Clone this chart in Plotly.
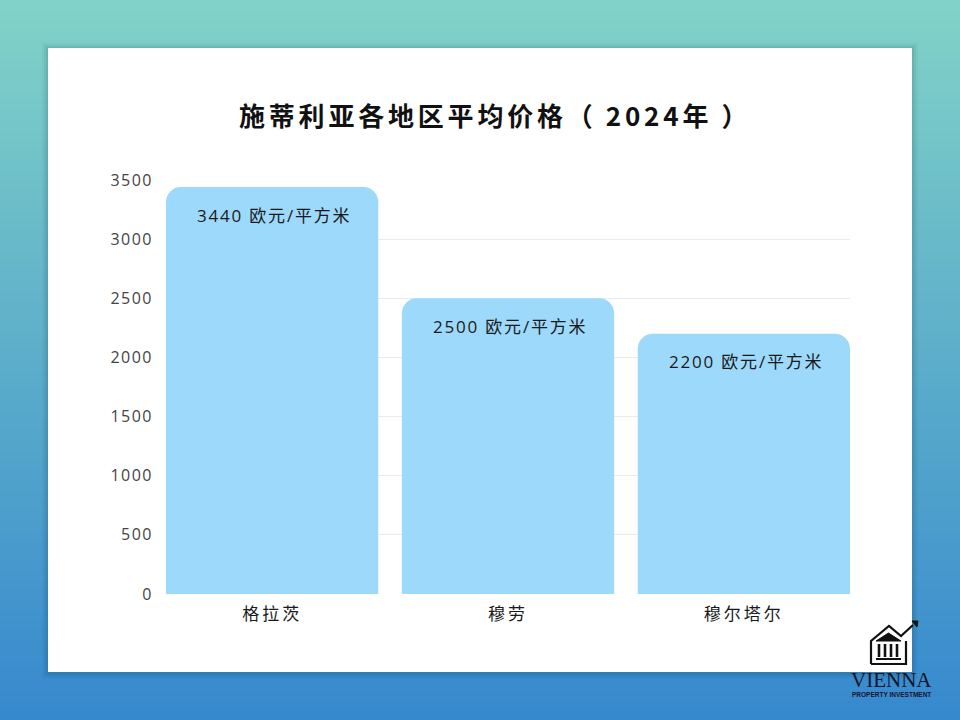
import plotly.graph_objects as go

# ---- data ----
regions = ["格拉茨", "穆劳", "穆尔塔尔"]
prices = [3440, 2500, 2200]
price_labels = ["3440 欧元/平方米", "2500 欧元/平方米", "2200 欧元/平方米"]
y_ticks = [0, 500, 1000, 1500, 2000, 2500, 3000, 3500]
title_text = "施蒂利亚各地区平均价格（2024年）"

W, H = 960, 720
CJK = "Noto Sans CJK SC, Noto Sans, sans-serif"
MIX = "Open Sans, Noto Sans CJK SC, sans-serif"


def spaced(s, ls):
    return '<span style="letter-spacing:%spx">%s</span>' % (ls, s)


def title_markup(s, base=3.8, wide=13):
    # widen the space after the opening paren and before the closing paren
    out = []
    buf = ""
    for ch in s:
        if ch in ("（", "年"):
            if buf:
                out.append(spaced(buf, base))
            out.append(spaced(ch, wide))
            buf = ""
        else:
            buf += ch
    if buf:
        out.append(spaced(buf, base))
    return "".join(out)


fig = go.Figure()
fig.add_trace(go.Bar(
    x=regions, y=prices, marker=dict(color="#9dd9fb", line=dict(width=0)),
    hoverinfo="skip", showlegend=False,
))

mL, mR, mT, mB = 166, 110, 180, 126
pw, ph = W - mL - mR, H - mT - mB


def px_x(x):
    return (x - mL) / pw


def px_y(y):
    return (H - mB - y) / ph


shapes = []
# background gradient
top = (129, 210, 199)
bot = (55, 137, 206)
N = 72
for i in range(N):
    t = i / (N - 1)
    c = tuple(round(top[k] + (bot[k] - top[k]) * t) for k in range(3))
    y0 = i * H / N
    y1 = (i + 1) * H / N + 1
    shapes.append(dict(type="rect", xref="paper", yref="paper", layer="below",
                       x0=px_x(-5), x1=px_x(W + 5), y0=px_y(y1), y1=px_y(y0),
                       line=dict(width=0), fillcolor="rgb(%d,%d,%d)" % c))

# card shadow
for d, a in [(6, 0.04), (4, 0.05), (2, 0.07)]:
    shapes.append(dict(type="rect", xref="paper", yref="paper", layer="below",
                       x0=px_x(48 - d), x1=px_x(912 + d), y0=px_y(672 + d + 1), y1=px_y(48 - d + 1),
                       line=dict(width=0), fillcolor="rgba(0,40,60,%.2f)" % a))
# white card
shapes.append(dict(type="rect", xref="paper", yref="paper", layer="below",
                   x0=px_x(48), x1=px_x(912), y0=px_y(672), y1=px_y(48),
                   line=dict(width=0), fillcolor="white"))

# logo (house + arrow)
logo_col = "#111"


def P(pts, close=False):
    s = "M " + " L ".join("%f,%f" % (px_x(x), px_y(y)) for x, y in pts)
    return s + (" Z" if close else "")


shapes.append(dict(type="path", xref="paper", yref="paper",
                   path=P([(871, 664), (871, 641), (889, 626), (901, 636), (913, 625)]),
                   line=dict(color=logo_col, width=2.2)))
shapes.append(dict(type="path", xref="paper", yref="paper",
                   path=P([(871, 664), (906, 664), (906, 641)]),
                   line=dict(color=logo_col, width=2.2)))
shapes.append(dict(type="path", xref="paper", yref="paper",
                   path=P([(912, 621), (918, 621), (917, 627)], close=True),
                   fillcolor=logo_col, line=dict(color=logo_col, width=1)))
shapes.append(dict(type="path", xref="paper", yref="paper",
                   path=P([(876, 641), (888.5, 633), (901, 641)], close=True),
                   fillcolor=logo_col, line=dict(color=logo_col, width=1)))
for cx in [879, 885, 891, 897]:
    shapes.append(dict(type="rect", xref="paper", yref="paper",
                       x0=px_x(cx - 1.3), x1=px_x(cx + 1.3), y0=px_y(657), y1=px_y(644),
                       fillcolor=logo_col, line=dict(width=0)))
shapes.append(dict(type="rect", xref="paper", yref="paper",
                   x0=px_x(876), x1=px_x(901), y0=px_y(660), y1=px_y(658),
                   fillcolor=logo_col, line=dict(width=0)))

annotations = []
for r, v, lab in zip(regions, prices, price_labels):
    annotations.append(dict(x=r, y=v, xref="x", yref="y", text=spaced(lab, 1.8), showarrow=False,
                            yshift=-28, xshift=2, yanchor="middle", xanchor="center",
                            font=dict(family=MIX, size=17, color="#1a1a1a")))

annotations.append(dict(x=px_x(891), y=px_y(680), xref="paper", yref="paper",
                        text="VIENNA", showarrow=False, xanchor="center", yanchor="middle",
                        font=dict(family="Liberation Serif, DejaVu Serif, serif", size=21, color="#14142a")))
annotations.append(dict(x=px_x(891), y=px_y(694), xref="paper", yref="paper",
                        text="<b>PROPERTY INVESTMENT</b>", showarrow=False, xanchor="center", yanchor="middle",
                        font=dict(family="Liberation Sans Narrow, Liberation Sans, sans-serif", size=6.5, color="#14142a")))

annotations.append(dict(x=px_x(495), y=px_y(115), xref="paper", yref="paper",
                        text="<b>" + title_markup(title_text) + "</b>", showarrow=False,
                        xanchor="center", yanchor="middle",
                        font=dict(family=CJK, size=26, color="#111")))

fig.update_layout(
    width=W, height=H,
    margin=dict(l=mL, r=mR, t=mT, b=mB, pad=0),
    paper_bgcolor="rgba(0,0,0,0)", plot_bgcolor="rgba(0,0,0,0)",
    barcornerradius=15, bargap=0.1,
    shapes=shapes, annotations=annotations,
    xaxis=dict(range=[-0.45, 2.45], showgrid=False, zeroline=False, showline=False,
               ticks="", ticklabelstandoff=8,
               tickvals=regions, ticktext=[spaced(r, 3) for r in regions],
               tickfont=dict(family=CJK, size=17, color="#1a1a1a")),
    yaxis=dict(range=[0, 3500], tickvals=y_ticks, ticktext=[spaced(str(t), 1.5) for t in y_ticks],
               showgrid=True, gridcolor="#ebebeb",
               gridwidth=1, zeroline=False, showline=False, ticks="", ticklabelstandoff=12,
               tickfont=dict(family="Open Sans, Noto Sans, sans-serif", size=16, color="#444")),
    font=dict(family=CJK),
)

fig.write_html("out.html", config={"displayModeBar": False},
               post_script="document.body.style.margin='0';document.body.style.overflow='hidden';")
